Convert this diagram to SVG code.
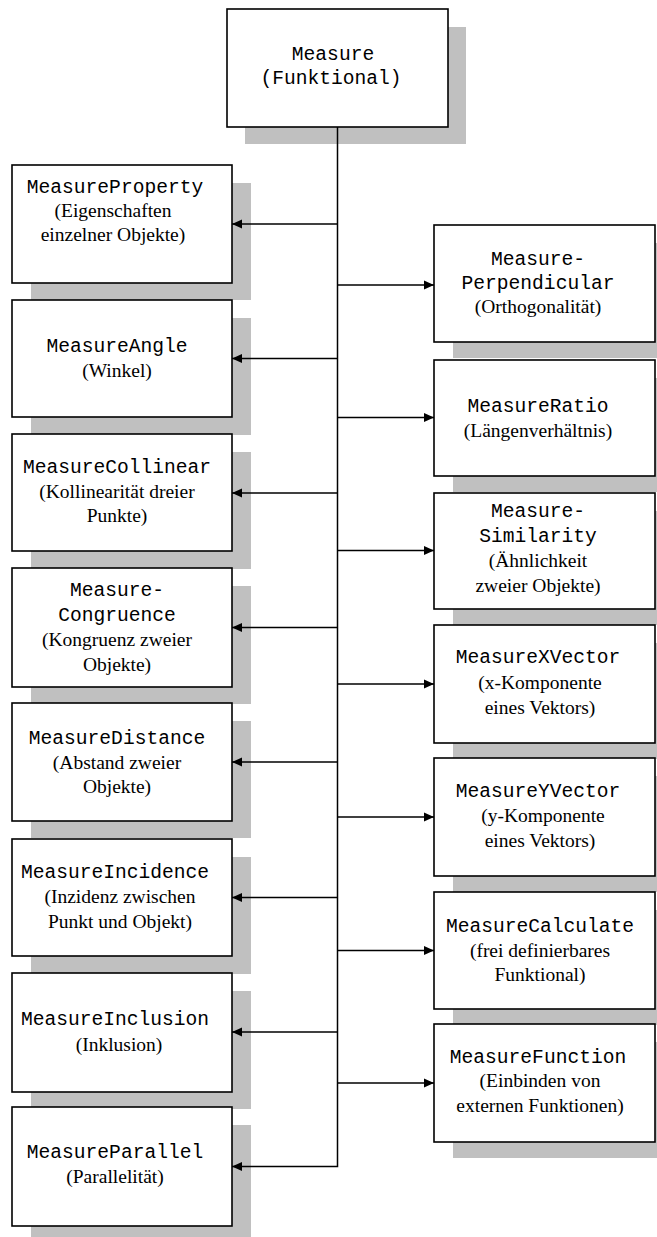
<svg xmlns="http://www.w3.org/2000/svg" width="657" height="1237" viewBox="0 0 657 1237">
  <defs>
    <style>
      .shadow { fill: #c0c0c0; stroke: none; }
      .box { fill: #ffffff; stroke: #000000; stroke-width: 1.6; }
      .mono { font-family: "Liberation Mono", "Courier New", monospace; font-size: 19.6px; fill: #000000; text-anchor: middle; }
      .serif { font-family: "Liberation Serif", "Times New Roman", serif; font-size: 19.5px; fill: #000000; text-anchor: middle; }
      .wire { fill: none; stroke: #000000; stroke-width: 1.5; }
    </style>
    <marker id="arrow" markerUnits="userSpaceOnUse" markerWidth="12" markerHeight="10" refX="10" refY="5" orient="auto">
      <path d="M0,0.5 L10,5 L0,9.5 Z" fill="#000000"/>
    </marker>
  </defs>

  <rect width="657" height="1237" fill="#ffffff"/>

  <!-- root -->
  <g id="measure">
    <rect class="shadow" x="245" y="27" width="221" height="117"/>
    <rect class="box" x="227" y="9" width="221" height="118"/>
    <text class="mono" x="333" y="60">Measure</text>
    <text class="mono" x="331" y="84">(Funktional)</text>
  </g>

  <!-- left column -->
  <g id="measure-property">
    <rect class="shadow" x="31" y="183" width="220" height="117"/>
    <rect class="box" x="12" y="165" width="220" height="118"/>
    <text class="mono" x="115" y="193">MeasureProperty</text>
    <text class="serif" x="113" y="217">(Eigenschaften</text>
    <text class="serif" x="113" y="241">einzelner Objekte)</text>
  </g>
  <g id="measure-angle">
    <rect class="shadow" x="31" y="318" width="220" height="117"/>
    <rect class="box" x="12" y="300" width="220" height="117"/>
    <text class="mono" x="117" y="352">MeasureAngle</text>
    <text class="serif" x="117" y="377">(Winkel)</text>
  </g>
  <g id="measure-collinear">
    <rect class="shadow" x="31" y="452" width="220" height="117"/>
    <rect class="box" x="12" y="434" width="220" height="117"/>
    <text class="mono" x="117" y="473">MeasureCollinear</text>
    <text class="serif" x="117" y="498">(Kollinearität dreier</text>
    <text class="serif" x="117" y="522">Punkte)</text>
  </g>
  <g id="measure-congruence">
    <rect class="shadow" x="31" y="586" width="220" height="118"/>
    <rect class="box" x="12" y="568" width="220" height="119"/>
    <text class="mono" x="117" y="596">Measure-</text>
    <text class="mono" x="117" y="621">Congruence</text>
    <text class="serif" x="117" y="646">(Kongruenz zweier</text>
    <text class="serif" x="117" y="671">Objekte)</text>
  </g>
  <g id="measure-distance">
    <rect class="shadow" x="31" y="721" width="220" height="117"/>
    <rect class="box" x="12" y="703" width="220" height="118"/>
    <text class="mono" x="117" y="744">MeasureDistance</text>
    <text class="serif" x="117" y="769">(Abstand zweier</text>
    <text class="serif" x="117" y="793">Objekte)</text>
  </g>
  <g id="measure-incidence">
    <rect class="shadow" x="31" y="857" width="220" height="117"/>
    <rect class="box" x="12" y="839" width="220" height="117"/>
    <text class="mono" x="115" y="878">MeasureIncidence</text>
    <text class="serif" x="120" y="903">(Inzidenz zwischen</text>
    <text class="serif" x="120" y="928">Punkt und Objekt)</text>
  </g>
  <g id="measure-inclusion">
    <rect class="shadow" x="31" y="991" width="220" height="118"/>
    <rect class="box" x="12" y="973" width="220" height="119"/>
    <text class="mono" x="115" y="1025">MeasureInclusion</text>
    <text class="serif" x="119" y="1051">(Inklusion)</text>
  </g>
  <g id="measure-parallel">
    <rect class="shadow" x="31" y="1125" width="220" height="118"/>
    <rect class="box" x="12" y="1107" width="220" height="119"/>
    <text class="mono" x="115" y="1158">MeasureParallel</text>
    <text class="serif" x="115" y="1183">(Parallelität)</text>
  </g>

  <!-- right column -->
  <g id="measure-perpendicular">
    <rect class="shadow" x="453" y="243" width="221" height="115"/>
    <rect class="box" x="434" y="225" width="221" height="117"/>
    <text class="mono" x="538" y="265">Measure-</text>
    <text class="mono" x="538" y="289">Perpendicular</text>
    <text class="serif" x="538" y="313">(Orthogonalität)</text>
  </g>
  <g id="measure-ratio">
    <rect class="shadow" x="453" y="378" width="221" height="114"/>
    <rect class="box" x="434" y="360" width="221" height="116"/>
    <text class="mono" x="538" y="412">MeasureRatio</text>
    <text class="serif" x="538" y="437">(Längenverhältnis)</text>
  </g>
  <g id="measure-similarity">
    <rect class="shadow" x="453" y="511" width="221" height="114"/>
    <rect class="box" x="434" y="493" width="221" height="116"/>
    <text class="mono" x="538" y="517">Measure-</text>
    <text class="mono" x="538" y="542">Similarity</text>
    <text class="serif" x="538" y="567">(Ähnlichkeit</text>
    <text class="serif" x="538" y="592">zweier Objekte)</text>
  </g>
  <g id="measure-xvector">
    <rect class="shadow" x="453" y="643" width="221" height="116"/>
    <rect class="box" x="434" y="625" width="221" height="118"/>
    <text class="mono" x="538" y="663">MeasureXVector</text>
    <text class="serif" x="540" y="689">(x-Komponente</text>
    <text class="serif" x="540" y="714">eines Vektors)</text>
  </g>
  <g id="measure-yvector">
    <rect class="shadow" x="453" y="776" width="221" height="116"/>
    <rect class="box" x="434" y="758" width="221" height="118"/>
    <text class="mono" x="538" y="797">MeasureYVector</text>
    <text class="serif" x="543" y="822">(y-Komponente</text>
    <text class="serif" x="540" y="847">eines Vektors)</text>
  </g>
  <g id="measure-calculate">
    <rect class="shadow" x="453" y="910" width="221" height="115"/>
    <rect class="box" x="434" y="892" width="221" height="117"/>
    <text class="mono" x="540" y="932">MeasureCalculate</text>
    <text class="serif" x="540" y="957">(frei definierbares</text>
    <text class="serif" x="540" y="981">Funktional)</text>
  </g>
  <g id="measure-function">
    <rect class="shadow" x="453" y="1042" width="221" height="116"/>
    <rect class="box" x="434" y="1024" width="221" height="118"/>
    <text class="mono" x="538" y="1063">MeasureFunction</text>
    <text class="serif" x="540" y="1087">(Einbinden von</text>
    <text class="serif" x="540" y="1112">externen Funktionen)</text>
  </g>

  <!-- trunk with branches to every specialisation -->
  <g id="connectors">
    <path class="wire" d="M337.5,127 V1166.5 H232" marker-end="url(#arrow)"/>
    <path class="wire" d="M337.5,224 H232" marker-end="url(#arrow)"/>
    <path class="wire" d="M337.5,358.5 H232" marker-end="url(#arrow)"/>
    <path class="wire" d="M337.5,493 H232" marker-end="url(#arrow)"/>
    <path class="wire" d="M337.5,627.5 H232" marker-end="url(#arrow)"/>
    <path class="wire" d="M337.5,762 H232" marker-end="url(#arrow)"/>
    <path class="wire" d="M337.5,897.5 H232" marker-end="url(#arrow)"/>
    <path class="wire" d="M337.5,1032 H232" marker-end="url(#arrow)"/>
    <path class="wire" d="M337.5,285 H434" marker-end="url(#arrow)"/>
    <path class="wire" d="M337.5,417.5 H434" marker-end="url(#arrow)"/>
    <path class="wire" d="M337.5,550.5 H434" marker-end="url(#arrow)"/>
    <path class="wire" d="M337.5,684 H434" marker-end="url(#arrow)"/>
    <path class="wire" d="M337.5,817 H434" marker-end="url(#arrow)"/>
    <path class="wire" d="M337.5,950.5 H434" marker-end="url(#arrow)"/>
    <path class="wire" d="M337.5,1083 H434" marker-end="url(#arrow)"/>
  </g>
</svg>
